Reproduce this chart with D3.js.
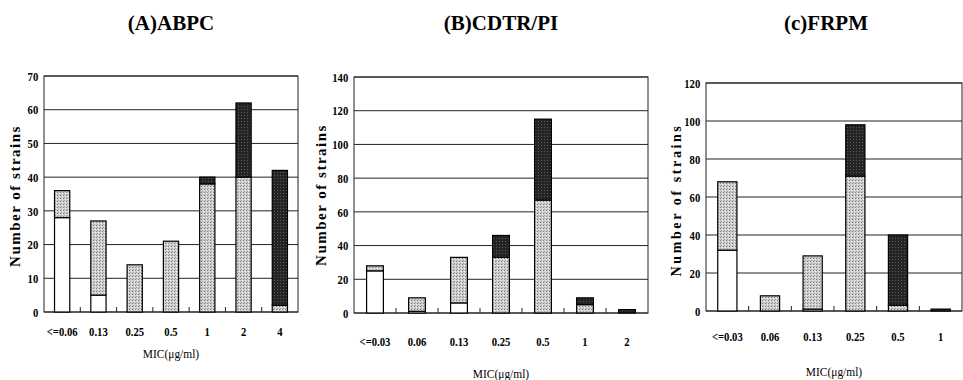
<!DOCTYPE html>
<html>
<head>
<meta charset="utf-8">
<script src="https://cdn.jsdelivr.net/npm/d3@7"></script>
<style>
  body { margin: 0; background: #fff; }
  svg { display: block; font-family: "Liberation Serif", "Times New Roman", serif; }
</style>
</head>
<body>
<svg id="chart" width="963" height="380"></svg>
<script>
// (A) ABPC
const catsA = ['<=0.06', '0.13', '0.25', '0.5', '1', '2', '4'];
const whiteA = [28, 5, 0, 0, 0, 0, 0];
const greyA = [8, 22, 14, 21, 38, 40, 2];
const blackA = [0, 0, 0, 0, 2, 22, 40];
const ticksA = [0, 10, 20, 30, 40, 50, 60, 70];

// (B) CDTR/PI
const catsB = ['<=0.03', '0.06', '0.13', '0.25', '0.5', '1', '2'];
const whiteB = [25, 1, 6, 0, 0, 0, 0];
const greyB = [3, 8, 27, 33, 67, 5, 0];
const blackB = [0, 0, 0, 13, 48, 4, 2];
const ticksB = [0, 20, 40, 60, 80, 100, 120, 140];

// (c) FRPM
const catsC = ['<=0.03', '0.06', '0.13', '0.25', '0.5', '1'];
const whiteC = [32, 0, 1, 0, 0, 0];
const greyC = [36, 8, 28, 71, 3, 0];
const blackC = [0, 0, 0, 27, 37, 1];
const ticksC = [0, 20, 40, 60, 80, 100, 120];

const svg = d3.select('#chart');

// stipple patterns for the grey and black segments
const defs = svg.append('defs');
const greyPat = defs.append('pattern')
  .attr('id', 'greyPat').attr('width', 3).attr('height', 3)
  .attr('patternUnits', 'userSpaceOnUse');
greyPat.append('rect').attr('width', 3).attr('height', 3).attr('fill', '#cfcfcf');
greyPat.append('rect').attr('x', 0).attr('y', 0).attr('width', 1).attr('height', 1).attr('fill', '#7c7c7c');
greyPat.append('rect').attr('x', 2).attr('y', 1).attr('width', 1).attr('height', 1).attr('fill', '#eeeeee');
greyPat.append('rect').attr('x', 1).attr('y', 2).attr('width', 1).attr('height', 1).attr('fill', '#a0a0a0');

const blackPat = defs.append('pattern')
  .attr('id', 'blackPat').attr('width', 3).attr('height', 3)
  .attr('patternUnits', 'userSpaceOnUse');
blackPat.append('rect').attr('width', 3).attr('height', 3).attr('fill', '#242424');
blackPat.append('rect').attr('x', 1).attr('y', 1).attr('width', 1).attr('height', 1).attr('fill', '#5a5a5a');

const panels = [
  { title: '(A)ABPC', cats: catsA, white: whiteA, grey: greyA, black: blackA, ticks: ticksA,
    left: 44, right: 298, top: 76, bottom: 312, barFrac: 0.42,
    titleX: 171, xLabY: 336, micY: 358, yLabX: 20, yLabY: 196, ySize: 15, ySpace: 1.5 },
  { title: '(B)CDTR/PI', cats: catsB, white: whiteB, grey: greyB, black: blackB, ticks: ticksB,
    left: 354, right: 648, top: 77, bottom: 313, barFrac: 0.40,
    titleX: 501, xLabY: 346, micY: 378, yLabX: 326, yLabY: 195, ySize: 15, ySpace: 1.5 },
  { title: '(c)FRPM', cats: catsC, white: whiteC, grey: greyC, black: blackC, ticks: ticksC,
    left: 706, right: 962, top: 83, bottom: 311, barFrac: 0.45,
    titleX: 826, xLabY: 341, micY: 376, yLabX: 681, yLabY: 200, ySize: 14, ySpace: 2.6 }
];

panels.forEach(p => {
  const g = svg.append('g');
  const x = d3.scaleBand().domain(p.cats).range([p.left, p.right]).padding(0);
  const y = d3.scaleLinear().domain([0, d3.max(p.ticks)]).range([p.bottom, p.top]);
  const bw = x.bandwidth() * p.barFrac;

  // title
  svg.append('text')
    .attr('x', p.titleX).attr('y', 30)
    .attr('text-anchor', 'middle')
    .attr('font-size', 21).attr('font-weight', 'bold')
    .text(p.title);

  // horizontal grid lines
  g.append('g')
    .selectAll('line')
    .data(p.ticks)
    .enter()
    .append('line')
    .attr('x1', p.left).attr('x2', p.right)
    .attr('y1', d => y(d)).attr('y2', d => y(d))
    .attr('stroke', '#222').attr('stroke-width', 1);

  // plot frame
  g.append('rect')
    .attr('x', p.left).attr('y', p.top)
    .attr('width', p.right - p.left).attr('height', p.bottom - p.top)
    .attr('fill', 'none').attr('stroke', '#222').attr('stroke-width', 1);

  // y axis labels (narrow, like the scanned figure)
  g.append('g')
    .attr('transform', `translate(${p.left},0)`)
    .call(d3.axisLeft(y).tickValues(p.ticks).tickSize(0).tickPadding(7))
    .call(a => a.select('.domain').remove())
    .selectAll('text')
    .attr('font-family', '"Liberation Serif", serif')
    .attr('font-size', 13).attr('font-weight', 'bold').attr('fill', '#000')
    .attr('transform', 'scale(0.82,1)');

  // x axis: ticks at category boundaries, pointing inward
  const bounds = p.cats.slice(1).map(c => x(c));
  g.append('g')
    .selectAll('line')
    .data(bounds)
    .enter()
    .append('line')
    .attr('x1', d => d).attr('x2', d => d)
    .attr('y1', p.bottom).attr('y2', p.bottom - 5)
    .attr('stroke', '#222');

  g.append('g')
    .selectAll('text')
    .data(p.cats)
    .enter()
    .append('text')
    .attr('transform', d => `translate(${x(d) + x.bandwidth() / 2},${p.xLabY}) scale(0.82,1)`)
    .attr('text-anchor', 'middle')
    .attr('font-size', 13).attr('font-weight', 'bold')
    .text(d => d);

  g.append('text')
    .attr('transform', `translate(${(p.left + p.right) / 2},${p.micY}) scale(0.88,1)`)
    .attr('text-anchor', 'middle')
    .attr('font-size', 13)
    .text('MIC(μg/ml)');

  // y axis title
  g.append('text')
    .attr('transform', `translate(${p.yLabX},${p.yLabY}) rotate(-90)`)
    .attr('text-anchor', 'middle')
    .attr('font-size', p.ySize).attr('font-weight', 'bold')
    .attr('letter-spacing', p.ySpace)
    .text('Number of strains');

  // stacked bars: white, grey, black from the bottom
  const rows = p.cats.map((c, i) => ({ cat: c, white: p.white[i], grey: p.grey[i], black: p.black[i] }));
  const stack = d3.stack().keys(['white', 'grey', 'black'])(rows);
  const fills = { white: '#fff', grey: 'url(#greyPat)', black: 'url(#blackPat)' };

  stack.forEach(layer => {
    g.append('g')
      .selectAll('rect')
      .data(layer.filter(d => d[1] > d[0]))
      .enter()
      .append('rect')
      .attr('x', d => x(d.data.cat) + (x.bandwidth() - bw) / 2)
      .attr('y', d => y(d[1]))
      .attr('width', bw)
      .attr('height', d => y(d[0]) - y(d[1]))
      .attr('fill', fills[layer.key])
      .attr('stroke', '#000').attr('stroke-width', 1.2);
  });
});
</script>
</body>
</html>
